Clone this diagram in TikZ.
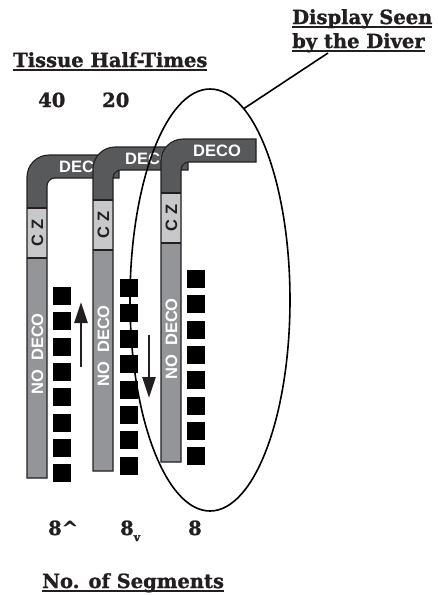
\documentclass[tikz,border=0pt]{standalone}
\usepackage{fontspec}
\setmainfont{DejaVu Serif}[BoldFeatures={FakeBold=1.2}]
\newfontfamily\lblfont{Liberation Sans}
\usetikzlibrary{shapes.geometric,arrows.meta}
\definecolor{ink}{HTML}{231F20}
\definecolor{decogray}{HTML}{58595B}
\definecolor{czgray}{HTML}{C7C8CA}
\definecolor{nodecogray}{HTML}{939598}
\newcommand\myul[1]{\setbox0=\hbox{#1}\rlap{\rule[-3.5pt]{\wd0}{1.5pt}}\box0}
\tikzset{
  serif/.style={inner sep=0pt, anchor=base west, text=ink, font=\fontsize{19.5}{24}\selectfont\bfseries},
  pipelbl/.style={inner sep=0pt, text=white, font=\fontsize{16.5}{16.5}\selectfont\lblfont\bfseries},
  czlbl/.style={inner sep=0pt, text=ink, rotate=90, font=\fontsize{16.5}{16.5}\selectfont\lblfont\bfseries},
  nolbl/.style={inner sep=0pt, text=white, rotate=90, font=\fontsize{16.5}{16.5}\selectfont\lblfont\bfseries},
  pipeline/.style={draw=ink, line width=1.1pt, line join=miter},
  seg/.style={fill=black},
  bigarrow/.style={draw=ink, line width=2.6pt, -{Triangle[length=21pt,width=13pt]}},
}
% #1=L #2=T #3=E #4=D #5=C #6=Y #7=name
\newcommand\drawpipe[7]{%
  \fill[decogray] (#1,#6) -- (#1,#2+22) .. controls (#1,#2+9.9) and (#1+9.9,#2) .. (#1+22,#2) -- (#3,#2) -- (#3,#2+23) -- (#1+28,#2+23) .. controls (#1+23.6,#2+23) and (#1+20,#2+26.6) .. (#1+20,#2+31) -- (#1+20,#6) -- cycle;
  \fill[czgray] (#1,#4) rectangle (#1+20,#5);
  \fill[nodecogray] (#1,#5) rectangle (#1+20,#6);
  \draw[pipeline] (#1,#4) -- (#1+20,#4) (#1,#5) -- (#1+20,#5);
  \draw[pipeline] (#1,#6) -- (#1,#2+22) .. controls (#1,#2+9.9) and (#1+9.9,#2) .. (#1+22,#2) -- (#3,#2) -- (#3,#2+23) -- (#1+28,#2+23) .. controls (#1+23.6,#2+23) and (#1+20,#2+26.6) .. (#1+20,#2+31) -- (#1+20,#6) -- cycle;
  \node[pipelbl, anchor=west] (#7deco) at (#1+32,#2+11.5) {DECO};
  \node[czlbl] (#7cz) at (#1+10.5,{(#4+#5)/2}) {C Z};
  \node[nolbl] (#7no) at (#1+10.5,#5+96) {NO\ \ DECO};
}
\begin{document}
\begin{tikzpicture}[x=1pt,y=-1pt]
\path[use as bounding box] (0,0) rectangle (437,595);

% titles
\node[serif] (tht) at (13,67) {\myul{Tissue Half-Times}};
\node[serif] (t40) at (38,107) {40};
\node[serif] (t20) at (102,107) {20};
\node[serif] (dsa) at (292,24) {\myul{Display Seen}};
\node[serif] (dsb) at (292,48) {\myul{by the Diver}};

% pipes
\drawpipe{27}{155}{119}{208}{258}{478}{pa}
\drawpipe{93}{147}{188}{200}{250}{471}{pb}
\drawpipe{161}{139}{256}{193}{243}{462}{pc}

% segment squares
\foreach \i in {0,...,7} {
  \fill[seg] (53,{287+25.3*\i}) rectangle ++(18,18);
  \fill[seg] (120,{279+25.4*\i}) rectangle ++(18,18);
  \fill[seg] (187,{270+25.3*\i}) rectangle ++(18,18);
}

% arrows
\coordinate (ua1) at (81,367);
\coordinate (ua2) at (81,302);
\coordinate (da1) at (149,335);
\coordinate (da2) at (149,398);
\draw[bigarrow] (ua1) -- (ua2);
\draw[bigarrow] (da1) -- (da2);

% ellipse and leader
\node[draw=black, line width=1.6pt, ellipse, minimum width=160pt, minimum height=422pt, inner sep=0pt, outer sep=0pt] (disp) at (210,300) {};
\coordinate (lead) at (328,53);
\draw[line width=1.6pt] (disp.80.6) -- (lead);

% bottom labels
\node[serif] (n1) at (48,535) {8\textasciicircum};
\node[serif] (n2) at (120,535) {8\raisebox{-6pt}{\fontsize{11}{11}\selectfont v}};
\node[serif] (n3) at (188,535) {8};
\node[serif] (nseg) at (42,588) {\myul{No. of Segments}};
\end{tikzpicture}
\end{document}
